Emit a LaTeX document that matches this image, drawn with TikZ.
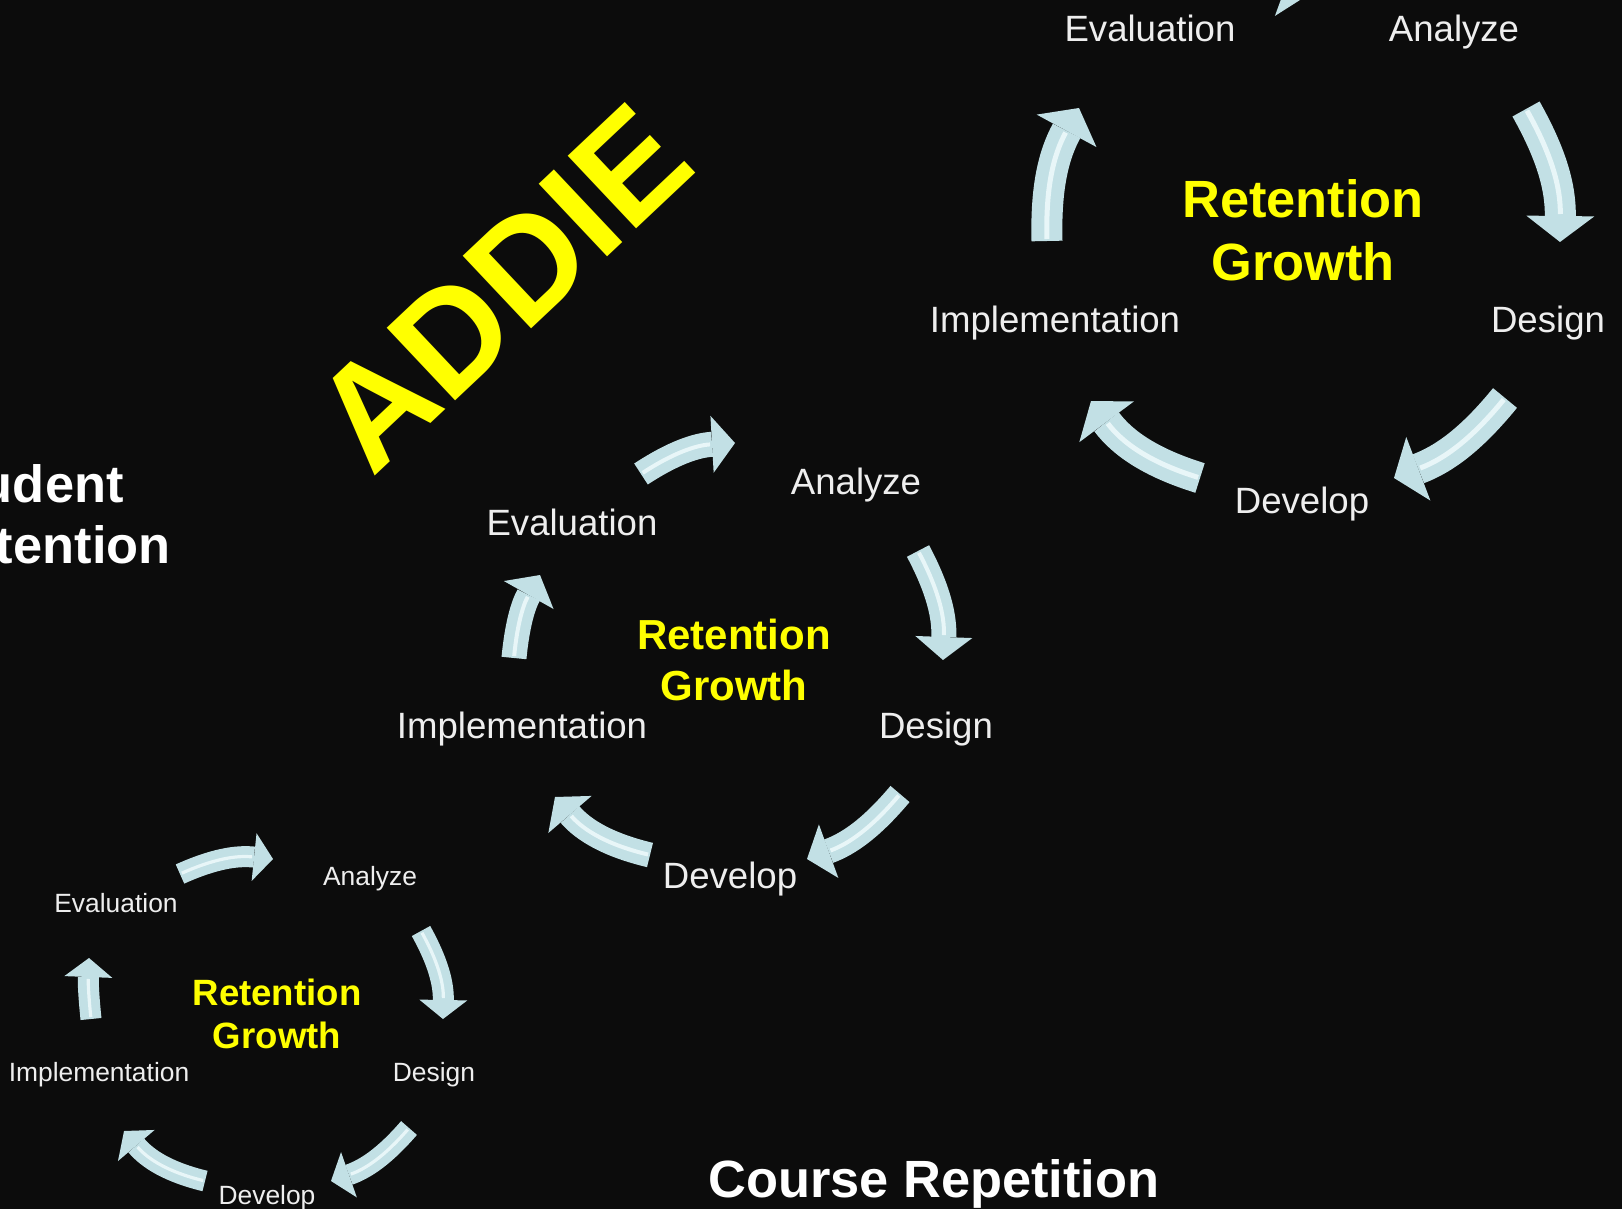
\documentclass[tikz,border=0pt]{standalone}
\usepackage{fontspec}
\setmainfont{Liberation Sans}
\usetikzlibrary{arrows.meta}
\definecolor{bg}{HTML}{0C0C0C}
\definecolor{arrowfill}{HTML}{C2E0E5}
\definecolor{arrowshine}{HTML}{E8F6F8}
\definecolor{labelgrey}{HTML}{EEEEEE}
\definecolor{hiyellow}{HTML}{FFFF00}

\begin{document}
\begin{tikzpicture}[x=0.5pt,y=0.5pt,
  lbl/.style={text=labelgrey, inner sep=0pt, anchor=base},
  lblL/.style={lbl, font=\fontsize{18.3}{22}\selectfont},
  lblS/.style={lbl, font=\fontsize{13.2}{16}\selectfont},
  core/.style={text=hiyellow, inner sep=0pt, align=center},
  coreB/.style={core, font=\bfseries\fontsize{26.2}{31.5}\selectfont},
  coreM/.style={core, font=\bfseries\fontsize{21}{25.5}\selectfont},
  coreS/.style={core, font=\bfseries\fontsize{18.3}{21.5}\selectfont},
  title/.style={text=white, inner sep=0pt, font=\bfseries\fontsize{26.2}{31}\selectfont},
  arrB/.style={draw=arrowfill, line width=15.5pt, line cap=butt,
    -{Triangle[length=13pt,width=34pt,line width=0pt]},
    postaction={draw=arrowshine, line width=2.5pt, arrows=-, shorten >=14pt, shorten <=1pt}},
  arrM/.style={draw=arrowfill, line width=12.5pt, line cap=butt,
    -{Triangle[length=11.5pt,width=28.5pt,line width=0pt]},
    postaction={draw=arrowshine, line width=2pt, arrows=-, shorten >=12.5pt, shorten <=1pt}},
  arrS/.style={draw=arrowfill, line width=10.5pt, line cap=butt,
    -{Triangle[length=9.5pt,width=24pt,line width=0pt]},
    postaction={draw=arrowshine, line width=1.6pt, arrows=-, shorten >=10.5pt, shorten <=1pt}},
]
\useasboundingbox (0,0) rectangle (1622,-1209);
\fill[bg] (0,0) rectangle (1622,-1209);
\clip (0,0) rectangle (1622,-1209);

% ---------- large cycle (top right) ----------
\node[lblL] (bEval) at (1150,-42)  {Evaluation};
\node[lblL] (bAna)  at (1454,-42)  {Analyze};
\node[lblL] (bDes)  at (1548,-332) {Design};
\node[lblL] (bDev)  at (1302,-513) {Develop};
\node[lblL] (bImp)  at (1055,-332) {Implementation};
\node[coreB] (bCore) at (1303,-230) {Retention\\Growth};

% the Evaluation -> Analyze arrow runs above the top edge; only a barb shows
\coordinate (b1s) at (1180,40);   \coordinate (b1e) at (1311,7);
\coordinate (b2s) at (1526,-109); \coordinate (b2e) at (1560,-242);
\coordinate (b3s) at (1505,-398); \coordinate (b3e) at (1394,-478);
\coordinate (b4s) at (1200,-478); \coordinate (b4e) at (1091,-401);
\coordinate (b5s) at (1047,-241); \coordinate (b5e) at (1079,-108);
\draw[arrB] (b1s) to[bend left=6]  (b1e);
\draw[arrB] (b2s) to[bend left=15] (b2e);
\draw[arrB] (b3s) to[bend left=15] (b3e);
\draw[arrB] (b4s) to[bend left=18] (b4e);
\draw[arrB] (b5s) to[bend left=15] (b5e);

% ---------- middle cycle ----------
\node[lblL] (mEval) at (572,-535) {Evaluation};
\node[lblL] (mAna)  at (856,-494) {Analyze};
\node[lblL] (mDes)  at (936,-738) {Design};
\node[lblL] (mDev)  at (730,-888) {Develop};
\node[lblL] (mImp)  at (522,-738) {Implementation};
\node[coreM] (mCore) at (734,-660) {Retention\\Growth};

\coordinate (m1s) at (641,-474); \coordinate (m1e) at (735,-443);
\coordinate (m2s) at (918,-551); \coordinate (m2e) at (943,-660);
\coordinate (m3s) at (900,-794); \coordinate (m3e) at (807,-859);
\coordinate (m4s) at (650,-855); \coordinate (m4e) at (555,-797);
\coordinate (m5s) at (514,-658); \coordinate (m5e) at (540,-575);
\draw[arrM] (m1s) to[bend left=15] (m1e);
\draw[arrM] (m2s) to[bend left=15] (m2e);
\draw[arrM] (m3s) to[bend left=15] (m3e);
\draw[arrM] (m4s) to[bend left=18] (m4e);
\draw[arrM] (m5s) to[bend left=12] (m5e);

% ---------- small cycle (bottom left) ----------
\node[lblS] (sEval) at (116,-912)  {Evaluation};
\node[lblS] (sAna)  at (370,-885)  {Analyze};
\node[lblS] (sDes)  at (434,-1081) {Design};
\node[lblS] (sDev)  at (267,-1204) {Develop};
\node[lblS] (sImp)  at (99,-1081)  {Implementation};
\node[coreS] (sCore) at (277,-1014) {Retention\\Growth};

\coordinate (s1s) at (180,-874);  \coordinate (s1e) at (273,-859);
\coordinate (s2s) at (421,-931);  \coordinate (s2e) at (443,-1019);
\coordinate (s3s) at (409,-1128); \coordinate (s3e) at (331,-1181);
\coordinate (s4s) at (205,-1181); \coordinate (s4e) at (124,-1131);
\coordinate (s5s) at (91,-1019);  \coordinate (s5e) at (89,-958);
\draw[arrS] (s1s) to[bend left=15] (s1e);
\draw[arrS] (s2s) to[bend left=15] (s2e);
\draw[arrS] (s3s) to[bend left=15] (s3e);
\draw[arrS] (s4s) to[bend left=18] (s4e);
\draw[arrS] (s5s) to[bend left=4]  (s5e);

% ---------- headings ----------
\node[text=hiyellow, inner sep=0pt, rotate=43.3,
      font=\bfseries\fontsize{72.5}{76}\selectfont] (addie) at (502,-288) {ADDIE};
\node[title, anchor=base east] (stu) at (124,-502) {Student};
\node[title, anchor=base east] (ret) at (171,-563) {Retention};
\node[title, anchor=base] (rep) at (934,-1197) {Course Repetition};
\end{tikzpicture}
\end{document}
